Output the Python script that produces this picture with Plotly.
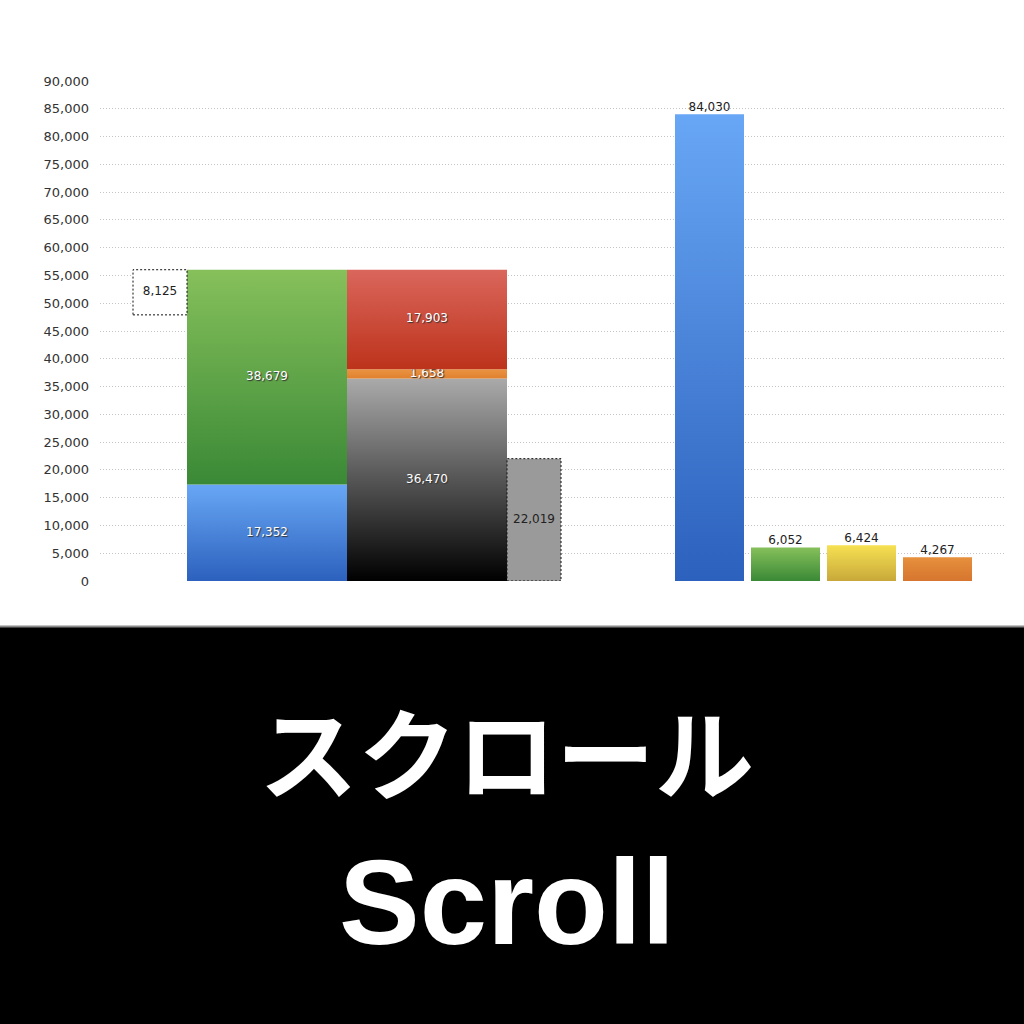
import plotly.graph_objects as go

# Left block: two stacked columns, the gap box on top-left and the side box
blue_green = [17352, 38679]          # bottom -> top
black_orange_red = [36470, 1658, 17903]
gap_value = 8125
side_value = 22019

# Right block: four single bars
right_values = [84030, 6052, 6424, 4267]

y_ticks = list(range(0, 90001, 5000))

# bar edges in plot units (x axis is just a layout ruler 0..905)
left_edges = {'gap': (33, 87), 'a': (87, 247), 'b': (247, 407), 'side': (407, 461)}
right_edges = [(575, 644), (651, 720), (727, 796), (803, 872)]

# vertical gradients, 0 = bottom, 1 = top
BLUE = [[0, '#2c61bd'], [1, '#68a7f5']]
GREEN = [[0, '#3a8936'], [1, '#86c05b']]
YELLOW = [[0, '#c8a83a'], [1, '#f6e152']]
ORANGE = [[0, '#d6752f'], [1, '#e6903c']]
ORANGE_THIN = [[0, '#e0812f'], [1, '#ea9443']]
RED = [[0, '#bd331b'], [1, '#da665c']]
BLACK = [[0, '#000000'], [1, '#aaaaaa']]

FONT = 'DejaVu Sans'

fig = go.Figure()


def add_box(edges, y0, y1, scale=None, fill=None, dashed=False):
    x0, x1 = edges
    kw = dict(x=[x0, x1, x1, x0, x0], y=[y0, y0, y1, y1, y0], mode='lines',
              fill='toself', hoverinfo='skip', showlegend=False)
    if scale is not None:
        kw['fillgradient'] = dict(type='vertical', colorscale=scale)
    else:
        kw['fillcolor'] = fill
    if dashed:
        kw['line'] = dict(color='#111111', width=1, dash='2px,2px')
    else:
        kw['line'] = dict(width=0, color='rgba(0,0,0,0)')
    fig.add_trace(go.Scatter(**kw))


def add_label(x, y, value, color, pos='middle center', shadow='none'):
    fig.add_trace(go.Scatter(x=[x], y=[y], mode='text', text=[f'{value:,}'],
                             textposition=pos, hoverinfo='skip',
                             showlegend=False,
                             textfont=dict(family=FONT, size=12,
                                           color=color, shadow=shadow)))


def mid(edges):
    return (edges[0] + edges[1]) / 2


white_shadow = '1px 1px 1px #333333'

# stack A: blue then green
base = 0
for v, sc in zip(blue_green, [BLUE, GREEN]):
    add_box(left_edges['a'], base, base + v, scale=sc)
    add_label(mid(left_edges['a']), base + v / 2, v, 'white', shadow=white_shadow)
    base += v
total = base

# stack B: black, orange, red
base = 0
for v, sc in zip(black_orange_red, [BLACK, ORANGE_THIN, RED]):
    add_box(left_edges['b'], base, base + v, scale=sc)
    add_label(mid(left_edges['b']), base + v / 2, v, 'white', shadow=white_shadow)
    base += v

# dashed gap box hanging from the top of stack A
add_box(left_edges['gap'], total - gap_value, total, fill='white', dashed=True)
add_label(mid(left_edges['gap']), total - gap_value / 2, gap_value, '#222222')

# dashed gray side box
add_box(left_edges['side'], 0, side_value, fill='#9a9a9a', dashed=True)
add_label(mid(left_edges['side']), side_value / 2, side_value, '#222222')

# right bars with labels above
for v, e, sc in zip(right_values, right_edges, [BLUE, GREEN, YELLOW, ORANGE]):
    add_box(e, 0, v, scale=sc)
    add_label(mid(e), v, v, '#222222', pos='top center')

fig.update_layout(
    width=1024, height=1024,
    margin=dict(l=0, r=0, t=0, b=0, autoexpand=False),
    paper_bgcolor='white', plot_bgcolor='white',
    showlegend=False,
    xaxis=dict(range=[0, 905], domain=[100 / 1024, 1005 / 1024],
               showgrid=False, zeroline=False, showticklabels=False,
               automargin=False, fixedrange=True),
    yaxis=dict(range=[0, 90000], domain=[(1024 - 581) / 1024, (1024 - 81) / 1024],
               tickvals=y_ticks, ticktext=[f'{t:,}' for t in y_ticks],
               showgrid=True, gridcolor='#c4c4c4', griddash='1px,2px', gridwidth=1,
               zeroline=False, ticks='', ticklabelstandoff=10, automargin=False,
               tickfont=dict(family=FONT, size=13, color='#333333'),
               fixedrange=True),
    shapes=[
        dict(type='rect', xref='paper', yref='paper', x0=0, x1=1,
             y0=0, y1=(1024 - 627) / 1024, fillcolor='black', line=dict(width=0)),
        dict(type='line', xref='paper', yref='paper', x0=0, x1=1,
             y0=(1024 - 626.5) / 1024, y1=(1024 - 626.5) / 1024,
             line=dict(color='#8a8a8a', width=2)),
    ],
    annotations=[
        dict(text='スクロール', xref='paper', yref='paper', x=0.495, y=1 - 749 / 1024,
             showarrow=False, xanchor='center', yanchor='middle',
             font=dict(family='Noto Sans CJK JP', size=99, color='white', weight=700)),
        dict(text='Scroll', xref='paper', yref='paper', x=0.495, y=1 - 902 / 1024,
             showarrow=False, xanchor='center', yanchor='middle',
             font=dict(family='Liberation Sans', size=121, color='white', weight=700)),
    ],
)

# page body has a default 8px margin; drop it so the figure sits at 0,0
fig.write_html("out.html", config={'displayModeBar': False},
               post_script="document.body.style.margin='0';"
                           "document.body.style.overflow='hidden';")
